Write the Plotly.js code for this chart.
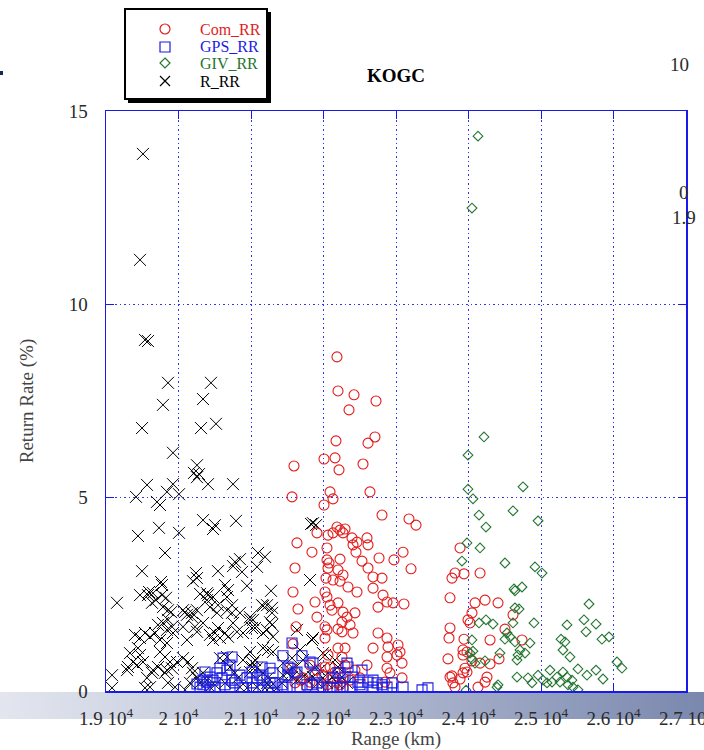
<!DOCTYPE html>
<html><head><meta charset="utf-8">
<script src="https://cdn.plot.ly/plotly-3.0.1.min.js"></script>
<style>html,body{margin:0;padding:0;background:#fff;}#chart{width:704px;height:750px;}</style>
</head><body><div id="chart"></div>
<script>
// ---------- data ----------
const seriesNames = ["Com_RR", "GPS_RR", "GIV_RR", "R_RR"];
const xTickVals = [19000, 20000, 21000, 22000, 23000, 24000, 25000, 26000, 27000];
const xTickText = ["1.9 10<sup>4</sup>", "2 10<sup>4</sup>", "2.1 10<sup>4</sup>", "2.2 10<sup>4</sup>", "2.3 10<sup>4</sup>", "2.4 10<sup>4</sup>", "2.5 10<sup>4</sup>", "2.6 10<sup>4</sup>", "2.7 10<sup>4</sup>"];
const yTickVals = [0, 5, 10, 15];

const rX = [19510,19469,19538,19579,19855,20448,19786,20338,19497,20310,20517,19924,20255,20214,20283,20255,20407,20752,19566,19924,19841,20007,19414,19703,19745,20338,20503,20793,19731,20007,20476,19441,19814,19497,19759,19772,20241,20255,20200,20545,20752,20848,20779,20876,20945,21097,21193,21828,21855,21897,21083,21814,21276,21152,21290,19152,
19593,19648,19690,19634,19828,19786,19897,20297,20393,20434,20393,20641,20683,20669,21166,20062,20117,19469,19579,19772,19855,20090,20186,20255,20407,20476,20545,20531,20669,20738,20738,20848,20986,21221,21290,
19400,19469,19538,19607,19676,19717,19786,19841,19910,19745,19841,20062,20117,20228,20255,20338,20434,20476,20545,20641,20683,20752,20807,20890,20986,21055,21221,21290,21303,21234,21028,21166,21014,21262,21634,21855,19855,19924,20503,20572,20186,
19441,19469,19372,19428,19510,19303,19290,19814,19883,19841,19910,19979,20062,20131,20186,20200,20255,20297,19634,19566,19083,19083,19538,19855,19952,20338,20393,20434,20503,20572,20669,20710,20779,20821,20890,20986,21028,21083,21166,21234,20641,20848,20945,21193,21262,21359,21166,21303,21055,21014,21441,21579,21717,21883,21952,22021,22159,22200,21441,21566,21634,21745,21786,21855,21924,21993,22048,22117,22186,22255,22324,21083,21221,20986,21676,21497,21428,21566,21993,21841,19745,19648,19717,19331,19607,20159,20090,19814];
const rY = [13.89,11.15,9.08,9.05,7.97,7.97,7.40,7.55,6.80,6.80,6.91,6.16,5.84,5.64,5.61,5.53,5.35,5.35,5.33,5.35,5.15,5.09,5.02,4.89,4.81,4.42,4.29,4.40,4.22,4.09,4.19,4.01,3.57,3.10,2.82,2.74,3.05,2.92,2.84,3.10,3.23,3.41,3.34,3.08,2.72,3.57,3.47,4.32,4.34,4.29,3.21,2.87,2.59,2.22,2.15,2.28,
2.56,2.53,2.35,2.28,2.41,2.17,2.04,2.51,2.35,2.17,2.53,2.74,2.61,2.43,2.20,2.09,1.97,2.48,2.48,2.48,2.09,2.04,2.02,2.09,2.48,2.43,2.22,2.02,2.09,2.02,2.22,2.02,1.91,2.22,2.02,
1.45,1.37,1.50,1.40,1.50,1.71,1.76,1.58,1.66,1.32,1.24,1.66,1.32,1.66,1.53,1.76,1.45,1.32,1.63,1.50,1.40,1.76,1.53,1.50,1.84,1.63,1.58,1.71,1.40,1.06,1.84,1.50,1.63,1.78,1.58,1.37,1.84,1.50,1.50,1.37,1.91,
1.11,0.93,0.75,0.67,0.75,0.62,0.54,0.88,0.75,0.54,0.59,0.75,0.85,0.75,0.59,0.47,0.34,0.21,0.47,0.34,0.41,0.08,0.08,0.21,0.10,0.47,0.28,0.10,0.16,0.85,0.88,0.62,0.47,0.34,0.80,1.01,0.72,0.59,0.47,0.34,0.21,0.10,0.08,0.08,0.10,0.08,1.11,1.01,0.80,0.62,0.72,0.59,0.80,0.59,0.54,0.93,0.80,0.62,0.41,0.36,0.28,0.41,0.28,0.36,0.21,0.34,0.21,0.36,0.21,0.36,0.21,0.10,0.21,0.49,1.06,0.47,0.21,0.85,0.98,1.32,1.01,0.54,0.62,0.98,0.10,0.21,0.03,0.47];

const gpsX = [20614,20710,20669,20572,20738,21152,21262,21124,21303,20366,20434,20393,20476,20338,20503,20434,20600,20641,20738,20779,20710,20848,20945,21014,21083,21028,20890,21166,21234,21331,20297,20338,21566,21441,21703,21814,21510,21634,22324,22228,22131,22269,22090,21910,21772,21676,21497,21855,21538,21607,21883,22200,22338,22531,22407,22683,22503,22614,22366,22807,22945,23097,22876,23359,23441,21841,21441,21262,21014,21428,21510,21993,22186,22297,22476,22531,22683,22738,22821,20255,20531];
const gpsY = [0.85,0.67,0.54,0.59,0.88,0.62,0.59,0.41,0.47,0.49,0.36,0.23,0.28,0.16,0.10,0.03,0.34,0.16,0.28,0.21,0.08,0.41,0.34,0.21,0.34,0.08,0.08,0.28,0.10,0.21,0.10,0.28,1.24,0.91,0.91,0.75,0.62,0.49,0.72,0.47,0.34,0.10,0.10,0.21,0.16,0.08,0.10,0.72,0.59,0.47,0.41,0.47,0.62,0.54,0.36,0.28,0.16,0.23,0.10,0.16,0.21,0.10,0.10,0.03,0.08,0.16,0.10,0.21,0.49,0.16,0.41,0.10,0.08,0.36,0.23,0.08,0.10,0.21,0.08,0.18,0.47];

const comX = [22186,22200,22421,22724,22352,22710,22614,22172,22159,22007,22214,22545,21593,22090,22131,22641,21566,22007,22807,23179,23276,22186,22297,22269,22062,21910,22393,22462,22600,22614,22407,21634,21841,22048,22448,22766,23097,22972,22048,22076,22228,22531,21607,22062,22200,22269,22614,23207,22034,22131,22228,22683,22807,22338,22462,22683,22821,21579,22021,22048,21883,22090,22200,22876,22959,23110,21648,22117,22269,22324,22434,22752,21910,22255,22366,22407,22021,22048,22200,22255,21621,22752,22876,22021,22200,22297,22683,22890,23028,23055,22876,23014,23083,22255,22021,22090,21910,21979,21814,22876,22917,22600,23083,22131,22186,21566,21676,21772,21607,21979,22048,22117,22228,22269,21579,22131,22228,22062,22159,22297,22366,22434,22503,21717,21814,22848,22269,
23883,24159,23814,23772,23938,23745,24090,24228,24407,24048,23993,24021,24614,23745,23731,24503,23938,24297,24738,23924,23979,23924,23717,24048,24159,24297,24421,23952,23979,23924,23772,23745,23786,23814,23883,24255,24228,24131];
const comY = [8.64,7.76,7.66,7.50,7.27,6.57,6.41,6.47,6.03,6.00,5.72,5.87,5.82,5.15,4.97,5.15,5.02,4.81,4.55,4.45,4.29,4.24,4.19,4.09,4.03,4.09,3.96,3.85,3.96,3.78,3.78,3.83,3.59,3.70,3.59,3.44,3.59,3.39,3.39,3.31,3.41,3.36,3.18,3.18,3.13,3.00,3.18,3.16,2.92,2.87,2.84,2.95,2.92,2.69,2.56,2.66,2.48,2.56,2.56,2.43,2.30,2.22,2.28,2.30,2.28,2.25,2.12,2.09,2.04,1.91,2.02,2.17,1.91,1.78,1.71,1.50,1.66,1.58,1.60,1.53,1.66,1.50,1.37,1.37,1.11,1.11,1.11,1.14,1.19,1.01,0.88,0.93,0.72,0.88,0.62,0.62,0.54,0.41,0.67,0.59,0.47,0.67,0.34,0.34,0.21,0.59,0.28,0.10,0.21,0.10,0.16,0.08,0.16,0.08,1.22,4.09,4.16,0.93,0.49,0.67,0.28,0.54,0.34,0.34,0.23,0.23,0.34,
3.70,3.05,3.05,2.92,3.03,2.41,2.28,2.35,2.28,2.02,1.84,1.76,1.97,1.63,1.37,1.60,1.34,1.32,1.32,1.06,1.01,0.93,0.83,0.78,0.72,0.70,0.83,0.59,0.49,0.47,0.39,0.36,0.21,0.10,0.31,0.36,0.23,0.10];

const givX = [24131,24048,24214,23993,23993,24062,24752,24614,24145,24241,24959,23979,24159,23910,24503,24917,25014,24628,24641,24738,25662,24641,24697,24145,24241,24338,24614,24903,25593,25621,25359,25759,24048,24531,24572,24503,24641,24848,25276,25331,25841,25938,24062,24021,24710,24779,24683,25303,24434,24228,24048,24090,24669,25400,26048,26117,25124,25303,25510,25634,25759,25855,24669,24821,24876,24959,25028,25083,25152,25221,25262,25359,25428,25372,25441,25510,24407,24393,23966];
const givY = [14.35,12.49,6.57,6.10,5.22,4.97,5.28,4.66,4.55,4.24,4.40,3.83,3.70,3.36,3.31,3.21,3.05,2.64,2.59,2.69,2.25,2.15,2.12,1.76,1.84,1.73,1.76,1.76,1.84,1.53,1.71,1.73,1.32,1.50,1.40,1.34,1.27,1.24,1.34,1.27,1.34,1.40,1.03,0.98,1.06,0.98,0.93,1.06,0.98,0.78,0.83,0.72,0.80,0.88,0.75,0.59,0.54,0.49,0.57,0.41,0.54,0.31,0.36,0.34,0.21,0.41,0.28,0.21,0.23,0.36,0.23,0.36,0.28,0.16,0.10,0.03,0.16,0.10,0.02];

// ---------- style ----------
const SERIF = 'Liberation Serif, DejaVu Serif, serif';
const RED = 'rgb(226,28,28)', BLUE = 'rgb(28,28,226)', GREEN = 'rgb(36,118,48)', BLACK = '#000';
const AXC = 'rgb(25,25,235)', GRIDC = 'rgb(50,50,245)';
const TXT = '#2a2a2a';
// plot area in pixels (left, top, width, height)
const L = 106, T = 111, W = 580, H = 580;
const px = x => (x - L) / W;
const py = y => (T + H - y) / H;

const traces = [
  {x: rX, y: rY, name: seriesNames[3], type: 'scatter', mode: 'markers', showlegend: false,
   marker: {symbol: 'x-thin-open', size: 12, color: BLACK, line: {color: BLACK, width: 1}}},
  {x: comX, y: comY, name: seriesNames[0], type: 'scatter', mode: 'markers', showlegend: false,
   marker: {symbol: 'circle-open', size: 10, color: RED, line: {color: RED, width: 1.1}}},
  {x: givX, y: givY, name: seriesNames[2], type: 'scatter', mode: 'markers', showlegend: false,
   marker: {symbol: 'diamond-open', size: 7.5, color: GREEN, line: {color: GREEN, width: 1.1}}},
  {x: gpsX, y: gpsY, name: seriesNames[1], type: 'scatter', mode: 'markers', showlegend: false,
   marker: {symbol: 'square-open', size: 10, color: BLUE, line: {color: BLUE, width: 1.1}}}
];

const bandSvg = "<svg xmlns='http://www.w3.org/2000/svg' width='704' height='27' preserveAspectRatio='none'>" +
  "<defs><linearGradient id='g' x1='0' x2='1' y1='0' y2='0'>" +
  "<stop offset='0' stop-color='#e3e6ef'/><stop offset='0.5' stop-color='#b3bbd2'/><stop offset='1' stop-color='#7a88ae'/>" +
  "</linearGradient></defs><rect width='704' height='27' fill='url(#g)'/></svg>";

const legendRows = [
  {name: seriesNames[0], color: RED, y: 29},
  {name: seriesNames[1], color: BLUE, y: 46},
  {name: seriesNames[2], color: GREEN, y: 63},
  {name: seriesNames[3], color: BLACK, y: 81}
];
const mx = 165, r = 5;

const shapes = [
  {type: 'rect', xref: 'paper', yref: 'paper', x0: px(128), x1: px(271), y0: py(103), y1: py(12), fillcolor: '#000', line: {width: 0}, layer: 'above'},
  {type: 'rect', xref: 'paper', yref: 'paper', x0: px(125), x1: px(267), y0: py(99), y1: py(9), fillcolor: '#fff', line: {color: '#000', width: 2}, layer: 'above'},
  {type: 'circle', xref: 'paper', yref: 'paper', x0: px(mx - r), x1: px(mx + r), y0: py(29 + r), y1: py(29 - r), line: {color: RED, width: 1.2}, layer: 'above'},
  {type: 'rect', xref: 'paper', yref: 'paper', x0: px(mx - r), x1: px(mx + r), y0: py(47 + r), y1: py(47 - r), line: {color: BLUE, width: 1.2}, layer: 'above'},
  {type: 'path', xref: 'paper', yref: 'paper', path: `M${px(mx)},${py(63 - r)} L${px(mx + r)},${py(63)} L${px(mx)},${py(63 + r)} L${px(mx - r)},${py(63)} Z`, line: {color: GREEN, width: 1.2}, layer: 'above'},
  {type: 'path', xref: 'paper', yref: 'paper', path: `M${px(mx - r)},${py(81 - r)} L${px(mx + r)},${py(81 + r)} M${px(mx - r)},${py(81 + r)} L${px(mx + r)},${py(81 - r)}`, line: {color: BLACK, width: 1.2}, layer: 'above'},
  {type: 'rect', xref: 'paper', yref: 'paper', x0: px(0), x1: px(3), y0: py(75), y1: py(71), fillcolor: 'rgb(20,40,90)', line: {width: 0}, layer: 'above'}
];

const annotations = legendRows.map(row => ({
  xref: 'paper', yref: 'paper', x: px(198), y: py(row.y), xanchor: 'left', yanchor: 'middle',
  text: row.name, showarrow: false, font: {family: SERIF, size: 16, color: row.color}
}));
annotations.push(
  {xref: 'paper', yref: 'paper', x: px(679), y: py(65), text: '10', showarrow: false, xanchor: 'center', yanchor: 'middle', font: {family: SERIF, size: 19, color: TXT}},
  {xref: 'paper', yref: 'paper', x: px(684), y: py(192), text: '0', showarrow: false, xanchor: 'center', yanchor: 'middle', font: {family: SERIF, size: 19, color: TXT}},
  {xref: 'paper', yref: 'paper', x: px(684), y: py(217), text: '1.9', showarrow: false, xanchor: 'center', yanchor: 'middle', font: {family: SERIF, size: 19, color: TXT}}
);

const axisCommon = {
  showline: true, linecolor: AXC, linewidth: 1.5, mirror: 'ticks',
  ticks: 'inside', ticklen: 8, tickwidth: 1, tickcolor: AXC,
  showgrid: true, gridcolor: GRIDC, gridwidth: 1, griddash: '1.5px,3px',
  zeroline: false, tickfont: {family: SERIF, size: 19, color: TXT},
  ticklabeloverflow: 'allow'
};

const layout = {
  width: 704, height: 750,
  margin: {l: L, r: 704 - L - W, t: T, b: 750 - T - H, pad: 0},
  paper_bgcolor: '#fff', plot_bgcolor: '#fff',
  showlegend: false,
  title: {text: '<b>KOGC</b>', xref: 'container', yref: 'container', x: 396 / 704, y: 1 - 75 / 750,
          xanchor: 'center', yanchor: 'middle', font: {family: SERIF, size: 19, color: '#000'}},
  xaxis: Object.assign({}, axisCommon, {
    range: [19000, 27000], tickmode: 'array', tickvals: xTickVals, ticktext: xTickText,
    ticklabelstandoff: 10,
    title: {text: 'Range (km)', font: {family: SERIF, size: 19, color: '#444'}, standoff: 6}
  }),
  yaxis: Object.assign({}, axisCommon, {
    range: [0, 15], tickmode: 'array', tickvals: yTickVals, ticktext: yTickVals.map(String),
    ticklabelstandoff: 13,
    title: {text: 'Return Rate (%)', font: {family: SERIF, size: 19, color: '#444'}, standoff: 30}
  }),
  images: [{
    source: 'data:image/svg+xml;charset=utf-8,' + encodeURIComponent(bandSvg),
    xref: 'paper', yref: 'paper', x: px(0), y: py(692), sizex: 704 / W, sizey: 27 / H,
    xanchor: 'left', yanchor: 'top', sizing: 'stretch', layer: 'below'
  }],
  shapes: shapes,
  annotations: annotations
};

Plotly.newPlot('chart', traces, layout, {displayModeBar: false, staticPlot: true});
</script>
</body></html>
